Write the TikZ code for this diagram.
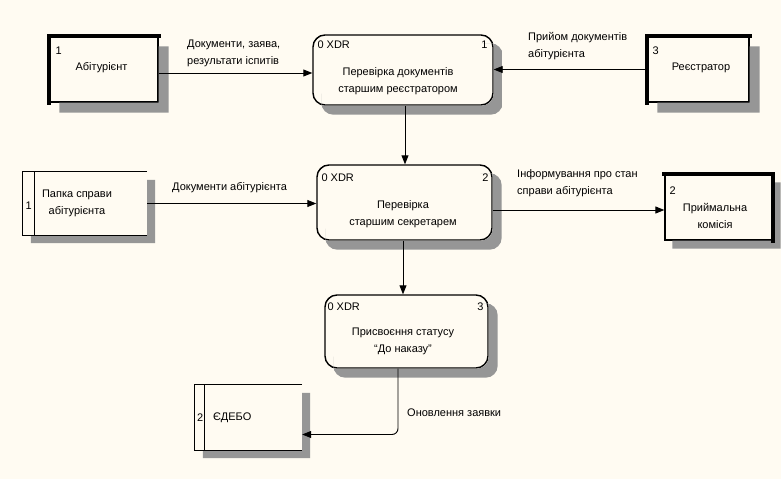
\documentclass[tikz,border=0pt]{standalone}
\usepackage{fontspec}
\setmainfont{Liberation Sans}
\usetikzlibrary{arrows.meta}
\definecolor{bg}{RGB}{255,251,242}
\definecolor{shadowgray}{RGB}{150,150,150}

\begin{document}
\begin{tikzpicture}[x=1pt, y=-1pt, font=\fontsize{11}{17}\selectfont,
  ent/.style={draw, line width=1.3pt, fill=bg, inner sep=0pt},
  heavy/.style={line width=4pt},
  proc/.style={draw, line width=1.4pt, rounded corners=12pt, fill=bg, inner sep=0pt},
  store/.style={fill=bg, inner sep=0pt},
  shadowbox/.style={color=shadowgray},
  sline/.style={line width=1.3pt},
  tag/.style={inner sep=0pt},
  ttl/.style={inner sep=0pt, align=center},
  lbl/.style={anchor=west, inner sep=0pt, align=left},
  flow/.style={-{Triangle[length=9pt, width=7pt]}, line width=0.9pt}]
\newcommand{\shadowL}[2]{\begin{scope}[shadowbox]
  \fill ([shift={(0,#2)}]#1.north east) -- ([shift={(#2,#2)}]#1.north east)
  -- ([shift={(#2,#2)}]#1.south east) -- ([shift={(#2,#2)}]#1.south west) -- ([shift={(#2,0)}]#1.south west)
  -- (#1.south east) -- cycle;
  \end{scope}}
\newcommand{\shadowR}[2]{\begin{scope}[shadowbox]
  \clip ([shift={(-12,#2)}]#1.north east) rectangle ([shift={(#2,#2)}]#1.south east)
        ([shift={(#2,-12)}]#1.south west) rectangle ([shift={(#2,#2)}]#1.south east);
  \fill[even odd rule, rounded corners=12pt]
        ([shift={(#2,#2)}]#1.south west) rectangle ([shift={(#2,#2)}]#1.north east)
        (#1.south west) rectangle (#1.north east);
  \end{scope}}
\fill[bg] (0,0) rectangle (781,479);

% external entities
\node[ent, minimum width=108pt, minimum height=65pt] (abit) at (104,69.5) {};
\shadowL{abit}{10}
\draw[heavy] ([yshift=-2pt]abit.south west) -- (abit.north west) -- ([xshift=2pt]abit.north east);
\node[tag, anchor=west] at ([shift={(6,14.5)}]abit.north west) {1};
\node[ttl] at ([shift={(-2.5,-1.5)}]abit.center) {Абітурієнт};

\node[ent, minimum width=101pt, minimum height=65pt] (reg) at (698.5,69.5) {};
\shadowL{reg}{10}
\draw[heavy] ([yshift=-2pt]reg.south west) -- (reg.north west) -- ([xshift=2pt]reg.north east);
\node[tag, anchor=west] at ([shift={(5,14)}]reg.north west) {3};
\node[ttl] at ([shift={(2.5,-1.5)}]reg.center) {Реєстратор};

\node[ent, minimum width=107pt, minimum height=65pt] (prij) at (718.5,207.5) {};
\shadowL{prij}{8}
\draw[heavy] ([xshift=-2pt]prij.north west) -- (prij.north east) -- ([yshift=-2pt]prij.south east);
\node[tag, anchor=west] at ([shift={(5,16)}]prij.north west) {2};
\node[ttl] at ([shift={(-3.5,8)}]prij.center) {Приймальна\\комісія};

% data stores
\node[store, minimum width=124pt, minimum height=63pt] (folder) at (85,203.5) {};
\shadowL{folder}{8}
\draw[sline] (folder.north east) -- (folder.north west) -- (folder.south west) -- (folder.south east);
\draw[sline] ([xshift=12pt]folder.north west) -- ([xshift=12pt]folder.south west);
\node[tag] at ([shift={(6,2.5)}]folder.west) {1};
\node[ttl] at ([shift={(-8,0)}]folder.center) {Папка справи\\абітурієнта};

\node[store, minimum width=107pt, minimum height=65pt] (edbo) at (248.5,417.5) {};
\shadowL{edbo}{8}
\draw[sline] (edbo.north east) -- (edbo.north west) -- (edbo.south west) -- (edbo.south east);
\draw[sline] ([xshift=10pt]edbo.north west) -- ([xshift=10pt]edbo.south west);
\node[tag] at ([shift={(5.5,0.5)}]edbo.west) {2};
\node[tag, anchor=west] at ([shift={(18,0.5)}]edbo.west) {ЄДЕБО};

% processes
\node[proc, minimum width=180pt, minimum height=70pt] (chk) at (403,70) {};
\shadowR{chk}{9}
\draw[line width=0.6pt] ([shift={(2,7)}]chk.north west) -- ([shift={(7,2)}]chk.north west);
\node[tag, anchor=west] at ([shift={(5,10)}]chk.north west) {0 XDR};
\node[tag, anchor=east] at ([shift={(-6,10)}]chk.north east) {1};
\node[ttl] at ([shift={(-5,11.5)}]chk.center) {Перевірка документів\\старшим реєстратором};

\node[proc, minimum width=175pt, minimum height=75pt] (sec) at (404.5,202.5) {};
\shadowR{sec}{9}
\draw[line width=0.6pt] ([shift={(2,7)}]sec.north west) -- ([shift={(7,2)}]sec.north west);
\node[tag, anchor=west] at ([shift={(5,13)}]sec.north west) {0 XDR};
\node[tag, anchor=east] at ([shift={(-4,13)}]sec.north east) {2};
\node[ttl] at ([shift={(-1.5,12)}]sec.center) {Перевірка\\старшим секретарем};

\node[proc, minimum width=163pt, minimum height=73pt] (stat) at (406.5,331.5) {};
\shadowR{stat}{9}
\draw[line width=0.6pt] ([shift={(2,7)}]stat.north west) -- ([shift={(7,2)}]stat.north west);
\node[tag, anchor=west] at ([shift={(3,12)}]stat.north west) {0 XDR};
\node[tag, anchor=east] at ([shift={(-5,12)}]stat.north east) {3};
\node[ttl] at ([shift={(-3.5,10)}]stat.center) {Присвоєння статусу\\“До наказу”};

% flows
\draw[flow] ([yshift=-3.5pt]abit.east) -- ([yshift=-3.5pt]abit.east -| chk.west);
\draw[flow] (reg.west) -- (reg.west -| chk.east);
\draw[flow] ([xshift=2pt]chk.south) -- ([xshift=2pt]chk.south |- sec.north);
\draw[flow] (folder.east) -- (folder.east -| sec.west);
\draw[flow] ([yshift=-7.5pt]sec.east) -- ([yshift=-7.5pt]sec.east -| prij.west);
\draw[flow] ([xshift=-1.5pt]sec.south) -- ([xshift=-1.5pt]sec.south |- stat.north);
\draw[flow, rounded corners=6pt] ([xshift=-8.5pt]stat.south) |- ([yshift=-17pt]edbo.east);

% flow labels
\node[lbl] at (187,53.5) {Документи, заява,\\результати іспитів};
\node[lbl] at (528,46.5) {Прийом документів\\абітурієнта};
\node[lbl] at (172,188) {Документи абітурієнта};
\node[lbl] at (517,183.5) {Інформування про стан\\справи абітурієнта};
\node[lbl] at (407,413) {Оновлення заявки};
\end{tikzpicture}
\end{document}
